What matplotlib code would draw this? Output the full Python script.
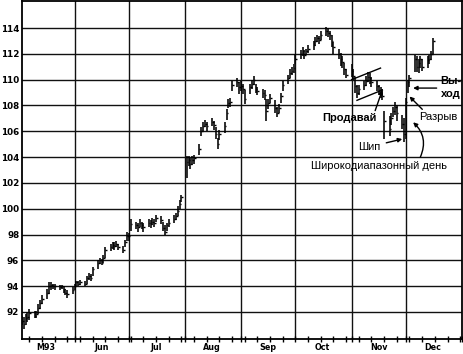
import datetime as dt

import matplotlib
matplotlib.use("Agg")
import matplotlib.dates as mdates
import matplotlib.pyplot as plt
import numpy as np
import pandas as pd

# daily bars, May 3 - Dec 16 1993 (business days)
highs_may = [91.7, 91.6, 91.8, 92.0, 92.2, 92.1, 92.1, 92.6, 92.9, 93.3, 93.8, 94.3, 94.3, 94.2, 94.2, 94.1, 94.1, 94.0, 93.8, 93.7, 93.9]
lows_may = [91.0, 90.7, 91.0, 91.2, 91.4, 91.5, 91.5, 91.8, 92.2, 92.6, 93.0, 93.4, 93.7, 93.8, 93.7, 93.7, 93.8, 93.5, 93.3, 93.1, 93.4]
closes_may = [91.3, 91.1, 91.5, 91.6, 91.9, 91.7, 91.8, 92.3, 92.7, 93.0, 93.5, 94.0, 94.1, 94.0, 94.0, 93.9, 94.0, 93.8, 93.5, 93.4, 93.7]

highs_jun = [94.2, 94.4, 94.4, 94.5, 94.4, 94.8, 95.0, 94.9, 95.5, 96.0, 96.2, 96.1, 96.4, 97.0, 97.3, 97.4, 97.4, 97.5, 97.3, 97.1, 97.6, 98.2]
lows_jun = [93.7, 94.0, 94.0, 94.1, 94.0, 94.2, 94.5, 94.4, 94.8, 95.3, 95.7, 95.6, 95.8, 96.2, 96.7, 96.9, 96.8, 97.0, 96.8, 96.6, 97.0, 97.5]
closes_jun = [94.0, 94.3, 94.2, 94.3, 94.2, 94.6, 94.8, 94.6, 95.3, 95.8, 96.0, 95.8, 96.2, 96.8, 97.0, 97.2, 97.1, 97.3, 97.0, 96.8, 97.4, 97.9]

highs_jul = [98.1, 99.2, 99.0, 98.9, 99.2, 99.0, 98.9, 99.2, 99.1, 99.3, 99.2, 99.5, 99.4, 99.0, 98.7, 98.9, 99.2, 99.5, 99.7, 100.2, 100.7, 101.1]
lows_jul = [97.5, 98.3, 98.4, 98.2, 98.6, 98.4, 98.2, 98.6, 98.5, 98.7, 98.6, 99.0, 98.8, 98.3, 98.0, 98.3, 98.6, 98.9, 99.1, 99.4, 100.0, 100.5]
closes_jul = [97.9, 98.8, 98.7, 98.6, 98.9, 98.7, 98.6, 98.9, 98.8, 99.0, 98.9, 99.3, 99.1, 98.5, 98.2, 98.7, 98.9, 99.2, 99.4, 99.8, 100.4, 100.9]

highs_aug = [104.1, 104.1, 103.9, 104.1, 104.2, 105.0, 106.3, 106.7, 106.9, 106.7, 107.0, 106.8, 106.3, 105.5, 106.1, 106.7, 107.7, 108.5, 108.6, 109.9, 110.1, 109.8]
lows_aug = [102.4, 103.3, 103.1, 103.4, 103.5, 104.2, 105.6, 106.0, 106.3, 106.0, 106.4, 106.1, 105.4, 104.6, 105.3, 105.9, 106.9, 107.8, 107.9, 109.1, 109.4, 108.9]
closes_aug = [103.6, 103.8, 103.5, 103.8, 103.9, 104.6, 106.0, 106.4, 106.6, 106.4, 106.7, 106.5, 105.8, 105.0, 105.8, 106.4, 107.4, 108.2, 108.3, 109.6, 109.8, 109.4]

highs_sep = [109.9, 109.7, 109.2, 109.7, 110.0, 110.3, 109.7, 109.4, 109.3, 109.2, 108.5, 108.5, 108.9, 108.4, 107.9, 108.1, 109.0, 109.9, 110.4, 110.8, 111.0, 111.2]
lows_sep = [109.1, 108.9, 108.1, 108.9, 109.3, 109.6, 109.0, 108.8, 108.6, 108.4, 106.8, 107.7, 108.2, 107.4, 107.1, 107.4, 108.2, 109.1, 109.7, 110.1, 110.4, 110.5]
closes_sep = [109.5, 109.3, 108.5, 109.4, 109.7, 110.0, 109.3, 109.1, 109.0, 108.8, 107.6, 108.2, 108.6, 107.8, 107.4, 107.8, 108.7, 109.6, 110.1, 110.5, 110.7, 110.9]

highs_oct = [112.0, 112.3, 112.5, 112.3, 112.4, 112.7, 113.0, 113.3, 113.5, 113.4, 113.8, 114.1, 114.0, 113.8, 113.5, 112.9, 112.4, 112.1, 111.8, 111.3, 110.8]
lows_oct = [111.2, 111.6, 111.8, 111.6, 111.9, 112.1, 112.3, 112.6, 112.9, 112.8, 113.1, 113.4, 113.3, 113.1, 112.5, 112.0, 111.6, 111.1, 110.9, 110.4, 110.1]
closes_oct = [111.6, 112.0, 112.2, 111.9, 112.2, 112.4, 112.7, 113.0, 113.2, 113.1, 113.5, 113.8, 113.6, 113.5, 113.0, 112.5, 112.0, 111.6, 111.4, 110.8, 110.4]

highs_nov = [111.2, 110.8, 110.2, 109.6, 109.6, 109.9, 110.3, 110.6, 110.5, 110.2, 109.9, 109.6, 109.4, 109.3, 107.6, 107.2, 107.4, 107.9, 108.3, 108.0, 107.3, 107.0]
lows_nov = [110.2, 110.0, 109.0, 108.6, 108.8, 109.2, 109.5, 109.8, 109.7, 109.4, 109.1, 108.8, 108.6, 108.4, 105.4, 105.6, 106.5, 107.1, 107.3, 106.8, 106.2, 105.2]
closes_nov = [110.7, 110.3, 109.5, 109.0, 109.3, 109.6, 109.9, 110.2, 110.1, 109.8, 109.5, 109.2, 109.0, 108.7, 106.8, 106.2, 107.0, 107.6, 107.9, 107.4, 106.6, 105.8]

highs_dec = [108.6, 110.0, 110.4, 111.9, 111.8, 111.6, 111.8, 111.6, 111.8, 111.9, 112.2, 113.2]
lows_dec = [105.4, 109.0, 109.4, 110.6, 110.6, 110.5, 110.9, 110.7, 110.9, 111.2, 111.5, 112.0]
closes_dec = [108.3, 109.8, 110.1, 111.6, 111.0, 111.3, 111.6, 111.0, 111.5, 111.6, 112.0, 113.0]

month_labels = ["M93", "Jun", "Jul", "Aug", "Sep", "Oct", "Nov", "Dec"]
y_ticks = [92, 94, 96, 98, 100, 102, 104, 106, 108, 110, 112, 114]

highs = np.array(highs_may + highs_jun + highs_jul + highs_aug + highs_sep + highs_oct + highs_nov + highs_dec)
lows = np.array(lows_may + lows_jun + lows_jul + lows_aug + lows_sep + lows_oct + lows_nov + lows_dec)
closes = np.array(closes_may + closes_jun + closes_jul + closes_aug + closes_sep + closes_oct + closes_nov + closes_dec)
dates = pd.bdate_range("1993-05-03", periods=len(closes))
x = mdates.date2num(dates.to_pydatetime())


def d(s):
    return mdates.date2num(pd.Timestamp(s).to_pydatetime())


fig = plt.figure(figsize=(4.64, 3.54), dpi=100)
ax = fig.add_axes([22 / 464, 15 / 354, 440 / 464, 338 / 354])

ax.set_xlim(d("1993-05-03"), d("1994-01-01"))
ax.set_ylim(89.9, 116.1)

# grid
for yv in y_ticks:
    ax.axhline(yv, color="#111111", lw=1.0, zorder=1)
month_starts = [d(f"1993-{m:02d}-01") for m in range(6, 13)]
for xv in month_starts:
    ax.axvline(xv, color="#111111", lw=1.0, zorder=1)

# bars
ax.vlines(x, lows, highs, color="black", lw=1.15, zorder=3)
ax.hlines(closes, x, x + 0.9, color="black", lw=1.0, zorder=3)

# axes styling
for sp in ax.spines.values():
    sp.set_linewidth(1.3)
ax.set_yticks(y_ticks)
ax.set_yticklabels([str(v) for v in y_ticks], fontsize=6.3, fontweight="bold")
ax.tick_params(axis="y", length=0, pad=2)
ax.xaxis.set_major_locator(mdates.MonthLocator())
ax.xaxis.set_minor_locator(mdates.WeekdayLocator(byweekday=mdates.FR))
ax.xaxis.set_major_formatter(plt.NullFormatter())
ax.tick_params(axis="x", which="both", direction="inout", length=4, width=1.0)
mid = [d(f"1993-{m:02d}-16") for m in range(5, 13)]
for xm, lab in zip(mid, month_labels):
    ax.text(xm, -0.012, lab, transform=ax.get_xaxis_transform(), ha="center", va="top",
            fontsize=5.8, fontweight="bold")

# annotations
fam = ["Liberation Sans", "DejaVu Sans"]
upper_line = [("1993-11-01", 110.0), ("1993-11-17", 110.9)]
lower_line = [("1993-11-04", 108.4), ("1993-11-18", 109.2)]
for seg in (upper_line, lower_line):
    ax.plot([d(seg[0][0]), d(seg[1][0])], [seg[0][1], seg[1][1]], color="black", lw=1.0, zorder=4)

arrow = dict(arrowstyle="-|>", color="black", lw=1.0, mutation_scale=6)
ax.annotate("Продавай", xy=(d("1993-11-18"), 109.2), xytext=(d("1993-10-31"), 107.0),
            ha="center", va="center", fontsize=8, fontweight="bold", family=fam,
            arrowprops=dict(arrow, shrinkA=0, shrinkB=0, relpos=(0.95, 1.0)))
ax.annotate("Шип", xy=(d("1993-11-29"), 105.4), xytext=(d("1993-11-11"), 104.8),
            ha="center", va="center", fontsize=8, family=fam,
            arrowprops=dict(arrow, shrinkA=2, shrinkB=0))
ax.text(d("1993-11-16"), 103.3, "Широкодиапазонный день", ha="center", va="center",
        fontsize=8, family=fam)
ax.annotate("", xy=(d("1993-12-05"), 106.7), xytext=(d("1993-12-09"), 104.0),
            arrowprops=dict(arrow, shrinkA=0, shrinkB=0, connectionstyle="arc3,rad=0.35"))
ax.annotate("Разрыв", xy=(d("1993-12-03"), 108.7), xytext=(d("1993-12-19"), 107.1),
            ha="center", va="center", fontsize=8, family=fam,
            arrowprops=dict(arrow, shrinkA=0, shrinkB=0, relpos=(0.15, 1.0)))
ax.text(d("1993-12-26"), 109.9, "Вы-", ha="center", va="center", fontsize=8,
        fontweight="bold", family=fam)
ax.text(d("1993-12-26"), 108.9, "ход", ha="center", va="center", fontsize=8,
        fontweight="bold", family=fam)
ax.annotate("", xy=(d("1993-12-05"), 109.35), xytext=(d("1993-12-18"), 109.35),
            arrowprops=dict(arrow, shrinkA=0, shrinkB=0))

fig.savefig("out.png", dpi=100)
